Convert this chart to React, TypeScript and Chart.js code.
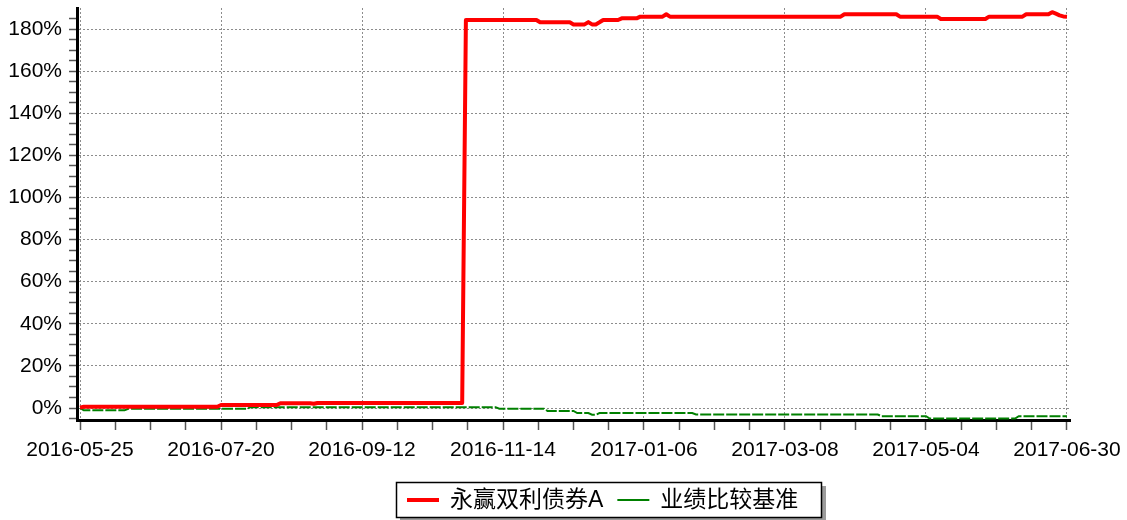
import React, { useEffect, useRef } from 'react';
import { Chart, registerables } from 'chart.js';

Chart.register(...registerables);

// x-axis tick labels (one every 38 trading days)
const tickLabels: string[] = [
  '2016-05-25', '2016-07-20', '2016-09-12', '2016-11-14',
  '2017-01-06', '2017-03-08', '2017-05-04', '2017-06-30',
];
const TICK_EVERY = 38;

const seriesNames: string[] = ['永赢双利债券A', '业绩比较基准'];
const seriesColors: string[] = ['#ff0000', '#008000'];

// cumulative return (%) of 永赢双利债券A, one value per trading day
const fundA: number[] = [
  0.2, 0.6, 0.6, 0.6, 0.6, 0.6, 0.6, 0.6, 0.6, 0.6,
  0.6, 0.6, 0.6, 0.6, 0.6, 0.6, 0.6, 0.6, 0.6, 0.6,
  0.6, 0.6, 0.6, 0.6, 0.6, 0.6, 0.6, 0.6, 0.6, 0.6,
  0.6, 0.6, 0.6, 0.6, 0.6, 0.6, 0.6, 0.6, 1.4, 1.4,
  1.4, 1.4, 1.4, 1.4, 1.4, 1.4, 1.4, 1.4, 1.4, 1.4,
  1.4, 1.4, 1.4, 1.4, 2.3, 2.3, 2.3, 2.3, 2.3, 2.3,
  2.3, 2.3, 2.3, 2.0, 2.4, 2.4, 2.4, 2.4, 2.4, 2.4,
  2.4, 2.4, 2.4, 2.4, 2.4, 2.4, 2.4, 2.4, 2.4, 2.4,
  2.4, 2.4, 2.4, 2.4, 2.4, 2.4, 2.4, 2.4, 2.4, 2.4,
  2.4, 2.4, 2.4, 2.4, 2.4, 2.4, 2.4, 2.4, 2.4, 2.4,
  2.4, 2.4, 2.4, 2.4, 184.3, 184.3, 184.3, 184.3, 184.3, 184.3,
  184.3, 184.3, 184.3, 184.3, 184.3, 184.3, 184.3, 184.3, 184.3, 184.3,
  184.3, 184.3, 184.3, 184.3, 183.2, 183.2, 183.2, 183.2, 183.2, 183.2,
  183.2, 183.2, 183.2, 182.2, 182.2, 182.2, 182.2, 183.3, 182.2, 182.2,
  183.2, 184.3, 184.3, 184.3, 184.3, 184.3, 185.1, 185.1, 185.1, 185.1,
  185.1, 185.9, 185.9, 185.9, 185.9, 185.9, 185.9, 185.9, 187.0, 185.9,
  185.9, 185.9, 185.9, 185.9, 185.9, 185.9, 185.9, 185.9, 185.9, 185.9,
  185.9, 185.9, 185.9, 185.9, 185.9, 185.9, 185.9, 185.9, 185.9, 185.9,
  185.9, 185.9, 185.9, 185.9, 185.9, 185.9, 185.9, 185.9, 185.9, 185.9,
  185.9, 185.9, 185.9, 185.9, 185.9, 185.9, 185.9, 185.9, 185.9, 185.9,
  185.9, 185.9, 185.9, 185.9, 185.9, 185.9, 187.0, 187.0, 187.0, 187.0,
  187.0, 187.0, 187.0, 187.0, 187.0, 187.0, 187.0, 187.0, 187.0, 187.0,
  187.0, 185.9, 185.9, 185.9, 185.9, 185.9, 185.9, 185.9, 185.9, 185.9,
  185.9, 185.9, 184.8, 184.8, 184.8, 184.8, 184.8, 184.8, 184.8, 184.8,
  184.8, 184.8, 184.8, 184.8, 184.8, 185.9, 185.9, 185.9, 185.9, 185.9,
  185.9, 185.9, 185.9, 185.9, 185.9, 187.0, 187.0, 187.0, 187.0, 187.0,
  187.0, 187.0, 188.0, 187.3, 186.5, 186.0, 185.9,
];

// cumulative return (%) of 业绩比较基准
const benchmark: number[] = [
  0.0, -1.1, -1.1, -1.1, -1.1, -1.1, -1.1, -1.1, -1.1, -1.1,
  -1.1, -1.1, -1.1, -0.4, -0.4, -0.4, -0.4, -0.4, -0.4, -0.4,
  -0.4, -0.4, -0.4, -0.4, -0.4, -0.4, -0.4, -0.4, -0.4, -0.4,
  -0.4, -0.4, -0.4, -0.4, -0.4, -0.4, -0.4, -0.4, -0.4, -0.4,
  -0.4, -0.4, -0.4, -0.4, -0.4, -0.4, 0.4, 0.4, 0.4, 0.4,
  0.4, 0.4, 0.4, 0.4, 0.4, 0.4, 0.4, 0.4, 0.4, 0.4,
  0.4, 0.4, 0.4, 0.4, 0.4, 0.4, 0.4, 0.4, 0.4, 0.4,
  0.4, 0.4, 0.4, 0.4, 0.4, 0.4, 0.4, 0.4, 0.4, 0.4,
  0.4, 0.4, 0.4, 0.4, 0.4, 0.4, 0.4, 0.4, 0.4, 0.4,
  0.4, 0.4, 0.4, 0.4, 0.4, 0.4, 0.4, 0.4, 0.4, 0.4,
  0.4, 0.4, 0.4, 0.4, 0.4, 0.4, 0.4, 0.4, 0.4, 0.4,
  0.4, 0.4, 0.4, -0.3, -0.3, -0.3, -0.3, -0.3, -0.3, -0.3,
  -0.3, -0.3, -0.3, -0.3, -0.3, -0.3, -1.4, -1.4, -1.4, -1.4,
  -1.4, -1.4, -1.4, -1.4, -2.4, -2.4, -2.4, -2.4, -3.2, -3.2,
  -2.4, -2.4, -2.4, -2.4, -2.4, -2.4, -2.4, -2.4, -2.4, -2.4,
  -2.4, -2.4, -2.4, -2.4, -2.4, -2.4, -2.4, -2.4, -2.4, -2.4,
  -2.4, -2.4, -2.4, -2.4, -2.4, -2.4, -3.1, -3.1, -3.1, -3.1,
  -3.1, -3.1, -3.1, -3.1, -3.1, -3.1, -3.1, -3.1, -3.1, -3.1,
  -3.1, -3.1, -3.1, -3.1, -3.1, -3.1, -3.1, -3.1, -3.1, -3.1,
  -3.1, -3.1, -3.1, -3.1, -3.1, -3.1, -3.1, -3.1, -3.1, -3.1,
  -3.1, -3.1, -3.1, -3.1, -3.1, -3.1, -3.1, -3.1, -3.1, -3.1,
  -3.1, -3.1, -3.1, -3.1, -3.1, -3.1, -3.9, -3.9, -3.9, -3.9,
  -3.9, -3.9, -3.9, -3.9, -3.9, -3.9, -3.9, -3.9, -3.9, -5.0,
  -5.0, -5.0, -5.0, -5.0, -5.0, -5.0, -5.0, -5.0, -5.0, -5.0,
  -5.0, -5.0, -5.0, -5.0, -5.0, -5.0, -5.0, -5.0, -5.0, -5.0,
  -5.0, -5.0, -5.0, -3.9, -3.9, -3.9, -3.9, -3.9, -3.9, -3.9,
  -3.9, -3.9, -3.9, -3.9, -3.9, -3.9, -3.9,
];

const FONT = '"Liberation Sans", Arial, sans-serif';
const LEGEND_FONT = '23px "Liberation Sans", "Noto Sans CJK SC", sans-serif';

const boxLegend = {
  id: 'boxLegend',
  afterDraw(chart: any) {
    const ctx: CanvasRenderingContext2D = chart.ctx;
    const bx = 396, by = 482, bw = 426, bh = 36;
    ctx.save();
    ctx.fillStyle = '#9c9c9c';
    ctx.fillRect(bx + 4, by + 4, bw, bh);
    ctx.fillStyle = '#ffffff';
    ctx.fillRect(bx, by, bw, bh);
    ctx.strokeStyle = '#000000';
    ctx.lineWidth = 1.5;
    ctx.strokeRect(bx + 0.5, by + 0.5, bw - 1, bh - 1);
    ctx.font = LEGEND_FONT;
    ctx.textBaseline = 'middle';
    ctx.textAlign = 'left';
    const cy = by + bh / 2;
    let x = bx + 11;
    chart.data.datasets.forEach((ds: any, i: number) => {
      ctx.strokeStyle = ds.borderColor;
      ctx.lineWidth = i === 0 ? 4 : 2;
      ctx.beginPath();
      ctx.moveTo(x, cy);
      ctx.lineTo(x + 32, cy);
      ctx.stroke();
      x += 32 + 11;
      ctx.fillStyle = '#000000';
      ctx.fillText(ds.label, x, cy + 1);
      x += ctx.measureText(ds.label).width + 14;
    });
    ctx.restore();
  },
};

export default function App() {
  const ref = useRef<HTMLCanvasElement>(null);
  useEffect(() => {
    const canvas = ref.current as HTMLCanvasElement;
    const toXY = (arr: number[]) => arr.map((v, i) => ({ x: i, y: v }));
    const chart = new Chart(canvas, {
      type: 'line',
      data: {
        datasets: [
          {
            label: seriesNames[0],
            data: toXY(fundA),
            borderColor: seriesColors[0],
            backgroundColor: seriesColors[0],
            borderWidth: 4,
            pointRadius: 0,
            tension: 0,
            borderJoinStyle: 'round',
          },
          {
            label: seriesNames[1],
            data: toXY(benchmark),
            borderColor: seriesColors[1],
            backgroundColor: seriesColors[1],
            borderWidth: 2,
            borderDash: [11, 2],
            pointRadius: 0,
            tension: 0,
          },
        ],
      },
      options: {
        responsive: false,
        animation: false,
        devicePixelRatio: 1,
        events: [],
        layout: { padding: { left: 0, right: 57, top: 8, bottom: 0 } },
        plugins: { legend: { display: false }, tooltip: { enabled: false } },
        scales: {
          x: {
            type: 'linear',
            min: -0.81,
            max: 266.81,
            afterBuildTicks: (s: any) => {
              const t: any[] = [];
              for (let k = 0; k * (TICK_EVERY / 4) <= (tickLabels.length - 1) * TICK_EVERY; k++) {
                t.push({ value: k * (TICK_EVERY / 4) });
              }
              s.ticks = t;
            },
            afterFit: (s: any) => {
              s.height = 100;
              s.paddingLeft = 0;
              s.paddingRight = 0;
            },
            ticks: {
              autoSkip: false,
              maxRotation: 0,
              minRotation: 0,
              padding: 8,
              color: '#000000',
              font: { family: FONT, size: 21 },
              callback: (v: any) => (v % TICK_EVERY === 0 ? tickLabels[v / TICK_EVERY] : ''),
            },
            grid: {
              color: (c: any) =>
                c.tick && c.tick.value % TICK_EVERY === 0 ? '#8c8c8c' : 'rgba(0,0,0,0)',
              lineWidth: 1,
              tickLength: 10,
              tickColor: '#555555',
              tickWidth: 1.5,
            },
            border: { display: true, color: '#000000', width: 3, dash: [2, 2] },
          },
          y: {
            type: 'linear',
            min: -5.7,
            max: 190,
            afterBuildTicks: (s: any) => {
              const t: any[] = [];
              for (let v = -5; v <= 185; v += 5) t.push({ value: v });
              s.ticks = t;
            },
            afterFit: (s: any) => {
              s.width = 77;
              s.paddingTop = 0;
              s.paddingBottom = 0;
            },
            ticks: {
              autoSkip: false,
              padding: 7,
              color: '#000000',
              font: { family: FONT, size: 21 },
              callback: (v: any) => (v % 20 === 0 && v >= 0 ? v + '%' : ''),
            },
            grid: {
              color: (c: any) =>
                c.tick && c.tick.value % 20 === 0 && c.tick.value >= 0 ? '#8c8c8c' : 'rgba(0,0,0,0)',
              lineWidth: 1,
              tickLength: 8,
              tickColor: '#555555',
              tickWidth: 1.5,
            },
            border: { display: true, color: '#000000', width: 3, dash: [2, 2] },
          },
        },
      },
      plugins: [boxLegend],
    } as any);
    return () => chart.destroy();
  }, []);
  return (
    <div style={{ position: 'absolute', left: 0, top: 0, width: 1127, height: 520, background: '#ffffff' }}>
      <canvas ref={ref} width={1127} height={520} style={{ display: 'block', width: 1127, height: 520 }} />
    </div>
  );
}
